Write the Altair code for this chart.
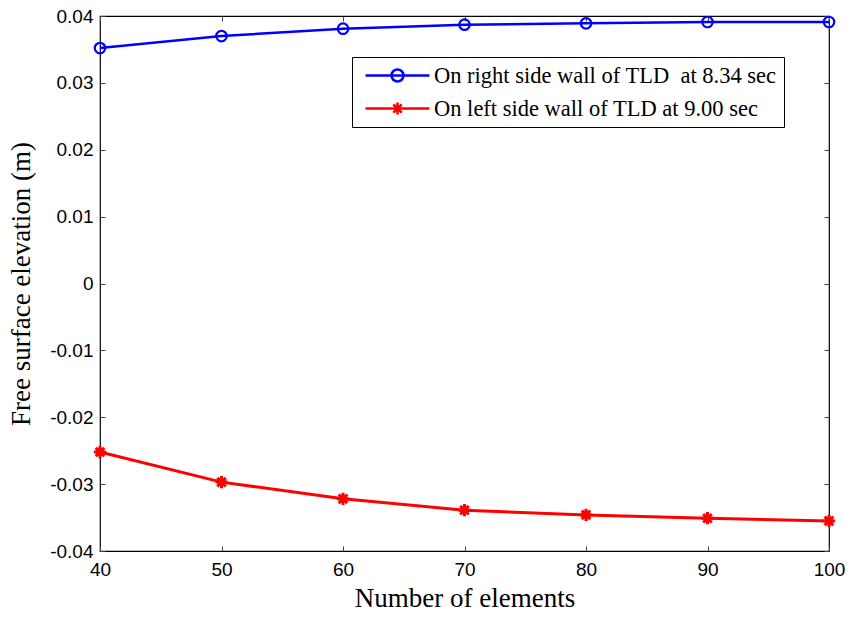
import altair as alt
import pandas as pd

# ---- data ----
elements = [40, 50, 60, 70, 80, 90, 100]
right_wall = [0.0352, 0.0370, 0.0381, 0.0387, 0.0389, 0.0391, 0.0391]
left_wall = [-0.0252, -0.0297, -0.0322, -0.0339, -0.0346, -0.0351, -0.0355]
series_names = ["On right side wall of TLD\u00a0 at 8.34 sec",
                "On left side wall of TLD at 9.00 sec"]
series_colors = ["#0000ff", "#ff0000"]
x_ticks = [40, 50, 60, 70, 80, 90, 100]
y_ticks = [-0.04, -0.03, -0.02, -0.01, 0, 0.01, 0.02, 0.03, 0.04]

rows = []
for n, v in zip(elements, right_wall):
    rows.append({"n": n, "value": v, "series": series_names[0]})
for n, v in zip(elements, left_wall):
    rows.append({"n": n, "value": v, "series": series_names[1]})
df = pd.DataFrame(rows)

xscale = alt.Scale(domain=[40, 100], nice=False, zero=False)
yscale = alt.Scale(domain=[-0.04, 0.04], nice=False, zero=False)

LABEL_FONT = "Liberation Sans"
TITLE_FONT = "Liberation Serif"
TICK_COLOR = "#444444"

common_axis = dict(domain=False, ticks=True, tickSize=5, offset=-5,
                   tickColor=TICK_COLOR, grid=False)

x_bottom = alt.Axis(values=x_ticks, format="d", labelFont=LABEL_FONT, labelFontSize=19,
                    labelColor="black", labelPadding=9, title="Number of elements",
                    titleFont=TITLE_FONT, titleFontSize=27, titleFontWeight="normal",
                    titleColor="black", titlePadding=6, orient="bottom",
                    labelFlush=False, **common_axis)
y_left = alt.Axis(values=y_ticks,
                  labelExpr="datum.value == 0 ? '0' : replace(format(datum.value, '.2f'), '\u2212', '-')",
                  labelFont=LABEL_FONT, labelFontSize=19, labelColor="black", labelPadding=7,
                  title="Free surface elevation (m)", titleFont=TITLE_FONT, titleFontSize=27,
                  titleFontWeight="normal", titleColor="black", titlePadding=14,
                  orient="left", labelFlush=False, **common_axis)
x_top = alt.Axis(values=x_ticks, labels=False, title=None, orient="top", **common_axis)
y_right = alt.Axis(values=y_ticks, labels=False, title=None, orient="right", **common_axis)

base = alt.Chart(df)

blue_line = base.transform_filter(alt.datum.series == series_names[0]).mark_line(
    color=series_colors[0], strokeWidth=2.5).encode(
    x=alt.X("n:Q", scale=xscale, axis=x_bottom),
    y=alt.Y("value:Q", scale=yscale, axis=y_left),
    order="n:Q")

red_line = base.transform_filter(alt.datum.series == series_names[1]).mark_line(
    color=series_colors[1], strokeWidth=3).encode(
    x=alt.X("n:Q", scale=xscale, axis=None),
    y=alt.Y("value:Q", scale=yscale, axis=None),
    order="n:Q")

blue_pts = base.transform_filter(alt.datum.series == series_names[0]).mark_point(
    shape="circle", filled=False, color=series_colors[0], strokeWidth=2.2, size=110,
    opacity=1).encode(
    x=alt.X("n:Q", scale=xscale, axis=None),
    y=alt.Y("value:Q", scale=yscale, axis=None))

asterisk = "M-1,0H1M0,-1V1M-0.7,-0.7L0.7,0.7M-0.7,0.7L0.7,-0.7"
red_pts = base.transform_filter(alt.datum.series == series_names[1]).mark_point(
    shape=asterisk, filled=False, color=series_colors[1], strokeWidth=3, size=150,
    opacity=1).encode(
    x=alt.X("n:Q", scale=xscale, axis=None),
    y=alt.Y("value:Q", scale=yscale, axis=None))

# legend feeder: marks placed outside the y domain and clipped away
legend_shapes = [
    "M-3.2,0H3.2M-0.6,0A0.6,0.6 0 1,0 0.6,0A0.6,0.6 0 1,0 -0.6,0",
    "M-3.2,0H3.2M0,-0.6V0.6M-0.42,-0.42L0.42,0.42M-0.42,0.42L0.42,-0.42",
]
legend_def = dict(orient="none", legendX=252, legendY=41, title=None,
                  labelFont=TITLE_FONT, labelFontSize=22.5, labelColor="black",
                  labelLimit=1000,
                  symbolSize=400, symbolStrokeWidth=2.5, strokeColor="black",
                  fillColor="white", padding=7, rowPadding=10, labelOffset=25,
                  symbolOffset=27, symbolOpacity=1)
legend_layer = base.transform_calculate(yoff="1").mark_point(
    filled=False, clip=True, size=400, strokeWidth=2.5, opacity=1).encode(
    x=alt.X("n:Q", scale=xscale, axis=x_top),
    y=alt.Y("yoff:Q", scale=yscale, axis=y_right),
    color=alt.Color("series:N", scale=alt.Scale(domain=series_names, range=series_colors),
                    legend=alt.Legend(**legend_def)),
    shape=alt.Shape("series:N", scale=alt.Scale(domain=series_names, range=legend_shapes),
                    legend=alt.Legend(**legend_def)))

chart = alt.layer(blue_line, red_line, blue_pts, red_pts, legend_layer).resolve_axis(
    x="independent", y="independent"
).properties(
    width=729, height=535,
    padding={"left": 100, "top": 16, "right": 24, "bottom": 66},
    autosize=alt.AutoSizeParams(type="none"),
    background="white",
).configure_view(stroke="black", strokeWidth=1.2)

chart.save("out.html", embed_options={"renderer": "svg", "actions": False})
